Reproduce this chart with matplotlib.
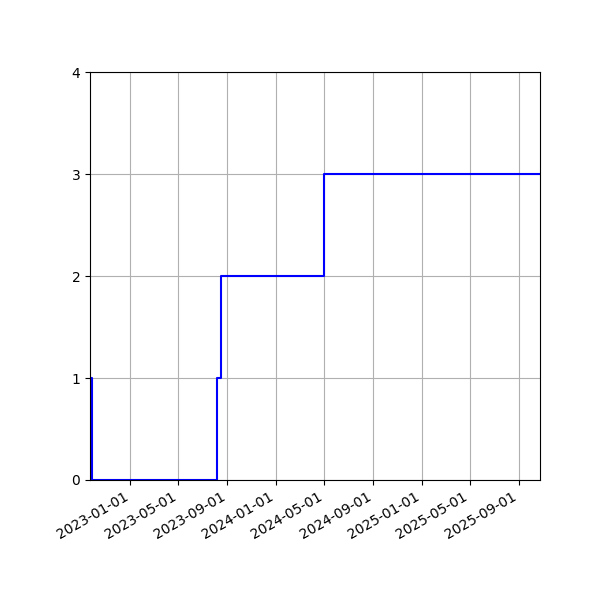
import numpy as np
import pandas as pd
import matplotlib
matplotlib.use("Agg")
from matplotlib import pyplot as plt
import matplotlib.dates as mdates

# fechas de cambio y valores (escalones)
dates = pd.to_datetime(["2022-09-22", "2022-09-28", "2023-08-05",
                        "2023-08-17", "2024-05-01", "2025-10-23"])
values = [1, 0, 1, 2, 3, 3]

fig, ax = plt.subplots(figsize=(6, 6), dpi=100)
ax.step(dates, values, where="post", color="blue")

ax.set_xlim(dates[0], dates[-1])
ax.set_ylim(0, 4)
ax.set_yticks([0, 1, 2, 3, 4])
ax.xaxis.set_major_locator(mdates.MonthLocator(bymonth=[1, 5, 9]))
ax.xaxis.set_major_formatter(mdates.DateFormatter("%Y-%m-%d"))
ax.grid(True)
fig.autofmt_xdate()
fig.subplots_adjust(left=0.15, right=0.9, top=0.88, bottom=0.2)

fig.savefig("out.png")
